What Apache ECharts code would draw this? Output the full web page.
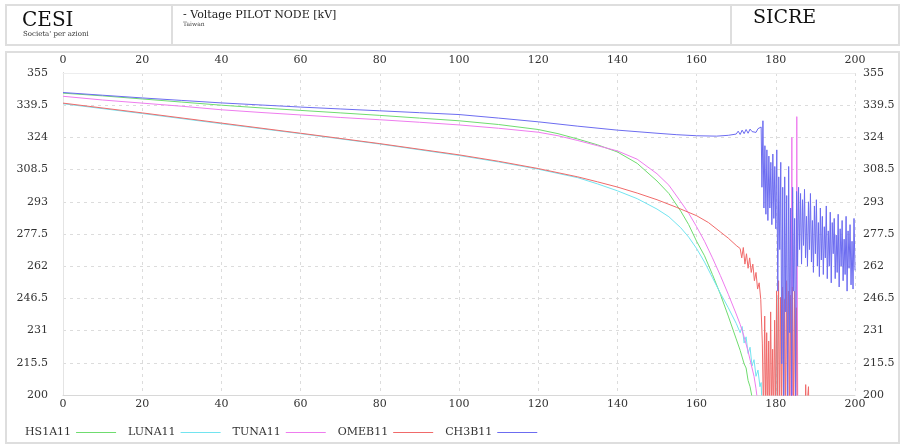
<!DOCTYPE html>
<html>
<head>
<meta charset="utf-8">
<script src="https://cdn.jsdelivr.net/npm/echarts@6/dist/echarts.min.js"></script>
<style>
html,body{margin:0;padding:0;background:#fff;}
#chart{width:901px;height:448px;}
</style>
</head>
<body>
<div id="chart"></div>
<script>
// ---- data (x = time, y = kV) ----
const seriesNames = ['HS1A11', 'LUNA11', 'TUNA11', 'OMEB11', 'CH3B11'];

const hs1a11 = [[0,345.3],[10,344],[20,342.5],[30,341],[40,339.5],[50,338.2],[60,337],[70,335.8],[80,334.6],[90,333.3],[100,332],[110,330.2],[120,327.8],[125,325.8],[130,323.2],[135,320.4],[140,317],[145,311.5],[150,303],[153,297],[156,288.5],[158,282],[160,274],[162,267],[164,258],[166,248.5],[168,238],[170,227],[171,221.5],[172,215],[172.5,213],[173,207],[173.5,204],[174,199],[174.6,190]];

const luna11 = [[0,340.2],[20,335.5],[40,330.6],[60,325.8],[80,320.8],[100,315.3],[110,312.2],[120,308.7],[130,304.6],[135,301.6],[140,298.3],[145,294.5],[150,289.5],[153,285.8],[156,280.5],[158,276],[160,270.5],[162,264],[164,256.5],[166,249],[168,242],[170,234.5],[171,230],[171.5,233],[172,225],[172.5,228],[173,220],[173.5,223],[174,214],[174.5,217],[175,209],[175.5,212],[176,204],[176.3,206],[176.6,190],[180,190],[180.25,248],[180.5,190]];

const tuna11 = [[0,343.8],[10,342],[20,340.5],[30,339],[40,337.3],[50,336],[60,334.8],[70,333.6],[80,332.5],[90,331.3],[100,330],[110,328.4],[120,326.5],[125,324.8],[130,322.5],[135,320],[140,317.5],[145,313.5],[150,306.5],[153,301],[156,293],[158,287.5],[160,281],[162,274],[164,266],[166,257.5],[168,248.5],[170,239],[171,234],[172,228],[173,221],[174,213],[174.5,209],[175,203],[175.4,197],[175.6,190],[183.8,190],[184.05,324],[184.3,190],[185.05,190],[185.3,334],[185.55,190]];

const omeb11 = [[0,340.5],[20,335.8],[40,330.9],[60,326],[80,321],[100,315.6],[110,312.5],[120,309],[130,305],[135,302.6],[140,300.1],[145,297.2],[150,294],[155,290.3],[160,286.3],[163,283],[166,278.5],[168,275.5],[170,272],[171,270.5],[171.4,266],[171.8,271],[172.2,263],[172.6,268],[173,261],[173.4,266],[173.8,259],[174.2,263],[174.6,255],[175,259],[175.4,251],[175.8,254],[176.2,246],[176.6,225],[176.9,190],
  [177.2,238],[177.45,190],[177.7,230],[177.95,190],[178.2,226],[178.45,190],[178.7,240],[178.95,190],[179.2,222],[179.45,190],[179.7,236],[179.95,190],[180.2,250],[180.45,190],[180.7,255],[180.95,190],[181.2,247],[181.45,194],[181.7,252],[181.95,190],[182.2,246],[182.45,192],[182.7,255],[182.95,190],[183.2,250],[183.45,195],[183.7,248],[183.95,190],[184.2,252],[184.45,192],[184.7,250],[184.95,190],[185.2,242],[185.45,190],[187.4,190],[187.55,205],[187.7,190],[188.1,190],[188.25,204],[188.4,190]];

const ch3b11 = [[0,345.6],[10,344.3],[20,343],[30,341.8],[40,340.6],[50,339.6],[60,338.6],[70,337.7],[80,336.8],[90,335.9],[100,335],[110,333.3],[120,331.5],[130,329.4],[140,327.5],[150,326],[155,325.3],[160,324.8],[165,324.6],[168,325],[170,325.6],[170.5,327],[171,325.4],[171.5,327.5],[172,325.8],[172.5,327.8],[173,326],[173.5,328],[174,326.8],[174.5,327.2],[175,326.4],[175.5,328.2],[176,327.5],[176.3,329],
  [176.5,300],[176.75,332],[177,290],[177.25,320],[177.5,287],[177.75,318],[178,284],[178.25,315],[178.5,290],[178.75,312],[179,282],[179.25,316],[179.5,285],[179.75,310],[180,280],[180.25,318],[180.5,250],[180.75,305],[181,270],[181.25,312],[181.5,215],[181.75,300],[182,195],[182.25,305],[182.5,240],[182.75,296],[183,195],[183.25,310],[183.5,230],[183.75,290],[184,195],[184.25,300],[184.5,250],[184.75,285],[185,195],[185.25,298],[185.5,262],[185.75,300],
  [186,270],[186.25,297],[186.5,263],[186.75,294],[187,272],[187.25,299],[187.5,266],[187.75,286],[188,262],[188.25,293],[188.5,270],[188.75,297],[189,264],[189.25,284],[189.5,259],[189.75,291],[190,268],[190.25,294],[190.5,262],[190.75,283],[191,257],[191.25,290],[191.5,265],[191.75,286],[192,258],[192.25,281],[192.5,266],[192.75,291],[193,256],[193.25,279],[193.5,262],[193.75,288],[194,254],[194.25,283],[194.5,268],[194.75,285],[195,256],[195.25,277],[195.5,259],[195.75,287],[196,252],[196.25,280],[196.5,262],[196.75,284],[197,255],[197.25,275],[197.5,258],[197.75,286],[198,250],[198.25,279],[198.5,261],[198.75,282],[199,253],[199.25,274],[199.5,251],[199.75,285],[200,260]];

const xMin = 0, xMax = 200, xStep = 20;
const yMin = 200, yMax = 355, yStep = 15.5;

// ---- styles ----
const colors = ['#6fdc6f', '#72e4f0', '#ee7cee', '#f06a6a', '#6c6cf0'];
const serif = '"DejaVu Serif", "Liberation Serif", serif';
const labelStyle = {fontFamily: serif, fontSize: 11, color: '#333'};

const chart = echarts.init(document.getElementById('chart'), null, {renderer: 'canvas'});
const allData = [hs1a11, luna11, tuna11, omeb11, ch3b11];

const option = {
  animation: false,
  backgroundColor: '#fff',
  grid: {left: 63, right: 46, top: 73, bottom: 53},
  legend: {
    data: seriesNames,
    left: 20, top: 422,
    icon: 'rect', itemWidth: 40, itemHeight: 1, itemGap: 12,
    align: 'right',
    textStyle: {fontFamily: serif, fontSize: 11, color: '#333'}
  },
  xAxis: [
    {type: 'value', min: xMin, max: xMax, interval: xStep, position: 'bottom',
     axisLine: {show: true, lineStyle: {color: '#d8d8d8'}}, axisTick: {show: false},
     axisLabel: Object.assign({margin: 4}, labelStyle),
     splitLine: {show: true, lineStyle: {type: [3, 4], color: '#dcdcdc'}}},
    {type: 'value', min: xMin, max: xMax, interval: xStep, position: 'top',
     axisLine: {show: true, lineStyle: {color: '#eeeeee'}}, axisTick: {show: false},
     axisLabel: Object.assign({margin: 7}, labelStyle), splitLine: {show: false}}
  ],
  yAxis: [
    {type: 'value', min: yMin, max: yMax, interval: yStep, position: 'left',
     axisLine: {show: true, lineStyle: {color: '#9a9a9a'}}, axisTick: {show: false},
     axisLabel: Object.assign({margin: 15}, labelStyle),
     splitLine: {show: true, lineStyle: {type: [3, 4], color: '#dcdcdc'}}},
    {type: 'value', min: yMin, max: yMax, interval: yStep, position: 'right',
     axisLine: {show: true, lineStyle: {color: '#e4e4e4'}}, axisTick: {show: false},
     axisLabel: Object.assign({margin: 8, align: 'left'}, labelStyle), splitLine: {show: false}}
  ],
  series: seriesNames.map((n, i) => ({
    name: n, type: 'line', data: allData[i],
    xAxisIndex: 0, yAxisIndex: 0,
    showSymbol: false, symbol: 'none', clip: true,
    lineStyle: {width: 1, color: colors[i]}, itemStyle: {color: colors[i]}
  })),
  graphic: [
    {type: 'rect', shape: {x: 6, y: 5, width: 893, height: 40}, style: {fill: 'none', stroke: '#dedede', lineWidth: 2}, silent: true},
    {type: 'line', shape: {x1: 172, y1: 5, x2: 172, y2: 45}, style: {stroke: '#dedede', lineWidth: 2}, silent: true},
    {type: 'line', shape: {x1: 731, y1: 5, x2: 731, y2: 45}, style: {stroke: '#dedede', lineWidth: 2}, silent: true},
    {type: 'rect', shape: {x: 6, y: 52, width: 893, height: 391}, style: {fill: 'none', stroke: '#dedede', lineWidth: 2}, silent: true},
    {type: 'text', left: 22, top: 11, style: {text: 'CESI', font: '20px ' + serif, fill: '#111'}, silent: true},
    {type: 'text', left: 23, top: 31, style: {text: "Societa' per azioni", font: '7px ' + serif, fill: '#333'}, silent: true},
    {type: 'text', left: 183, top: 10, style: {text: '- Voltage PILOT NODE [kV]', font: '11px ' + serif, fill: '#222'}, silent: true},
    {type: 'text', left: 183, top: 21, style: {text: 'Taiwan', font: '6px ' + serif, fill: '#444'}, silent: true},
    {type: 'text', left: 753, top: 9, style: {text: 'SICRE', font: '19px ' + serif, fill: '#111'}, silent: true}
  ]
};
chart.setOption(option);
</script>
</body>
</html>
